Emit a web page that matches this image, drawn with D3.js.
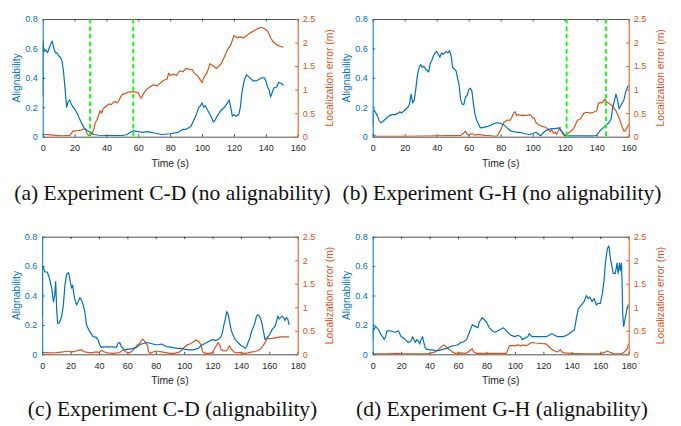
<!DOCTYPE html>
<html><head><meta charset="utf-8">
<script src="https://cdn.jsdelivr.net/npm/d3@7"></script>
<style>body{margin:0;background:#fff}svg{display:block}</style>
</head><body>
<svg id="c" width="681" height="426"></svg>
<script>
// ---------- DATA ----------
const captions = ["(a) Experiment C-D (no alignability)", "(b) Experiment G-H (no alignability)",
                  "(c) Experiment C-D (alignability)", "(d) Experiment G-H (alignability)"];
const xMaxes = [160, 160, 180, 180];
const xTicksA = [0,20,40,60,80,100,120,140,160];
const xTicksC = [0,20,40,60,80,100,120,140,160,180];
const leftTicks = [0,0.2,0.4,0.6,0.8];
const rightTicks = [0,0.5,1,1.5,2,2.5];
const xLabel = "Time (s)", leftLabel = "Alignability", rightLabel = "Localization error (m)";
const greenA = [29.7, 56.8];
const greenB = [121.2, 145.8];

const alignA = [[0,0.27],[0,0.65],[0.5,0.6],[1,0.58],[2,0.59],[3,0.57],[4,0.6],[5,0.63],[6,0.65],[7,0.6],[8,0.57],[9,0.57],[10,0.55],[11,0.54],[12,0.52],[13,0.45],[14,0.33],[15,0.2],[16,0.24],[17,0.25],[18,0.22],[19,0.2],[20,0.19],[22,0.15],[24,0.1],[26,0.06],[28,0.04],[30,0.03],[32,0.015],[35,0.01],[40,0.008],[50,0.008],[53,0.015],[55,0.03],[57,0.04],[60,0.035],[62,0.03],[66,0.035],[70,0.025],[75,0.015],[80,0.02],[85,0.03],[88,0.05],[90,0.05],[93,0.07],[96,0.14],[98,0.2],[99,0.21],[100,0.23],[101,0.2],[102,0.21],[104,0.17],[106,0.13],[107,0.1],[108,0.11],[110,0.15],[112,0.18],[114,0.2],[116,0.23],[117,0.25],[118,0.2],[119,0.14],[120,0.15],[121,0.14],[123,0.15],[124,0.2],[125,0.3],[126,0.36],[127,0.4],[128,0.42],[130,0.4],[132,0.38],[134,0.38],[136,0.39],[137,0.4],[139,0.4],[140,0.38],[141,0.34],[142,0.32],[143,0.27],[144,0.3],[145,0.33],[147,0.34],[148,0.37],[150,0.36],[151,0.35]];
const errA = [[0,0.05],[5,0.04],[8,0.03],[12,0.02],[17,0.03],[18,0.07],[19,0.12],[22,0.13],[24,0.14],[26,0.17],[27,0.14],[28,0.05],[29,0.02],[30,0.05],[31,0.06],[32,0.15],[33,0.3],[34,0.35],[35,0.45],[36,0.55],[37,0.5],[38,0.6],[40,0.65],[42,0.7],[43,0.68],[45,0.75],[47,0.72],[49,0.85],[50,0.9],[52,0.92],[54,0.95],[56,0.95],[58,0.95],[60,0.93],[61,0.85],[62,0.82],[63,0.9],[65,1.0],[67,1.05],[69,1.1],[72,1.08],[74,1.15],[76,1.2],[78,1.22],[79,1.35],[80,1.3],[82,1.33],[84,1.3],[86,1.4],[88,1.38],[90,1.45],[92,1.43],[94,1.42],[95,1.35],[97,1.3],[99,1.2],[100,1.15],[101,1.25],[103,1.35],[104,1.45],[105,1.55],[107,1.5],[109,1.45],[110,1.48],[112,1.55],[114,1.7],[116,1.85],[118,1.95],[119,2.05],[120,2.15],[122,2.1],[124,2.12],[126,2.1],[128,2.15],[130,2.2],[133,2.26],[135,2.3],[137,2.32],[139,2.3],[141,2.25],[143,2.1],[145,2.0],[147,1.95],[149,1.92],[151,1.9]];
const alignB = [[0,0.07],[0,0.17],[1,0.18],[2,0.16],[3,0.14],[4,0.11],[5,0.095],[6,0.1],[8,0.12],[10,0.14],[12,0.15],[14,0.15],[16,0.16],[17,0.17],[18,0.16],[20,0.18],[22,0.2],[23,0.22],[24,0.29],[25,0.23],[26,0.25],[27,0.33],[28,0.42],[29,0.47],[30,0.49],[31,0.47],[32,0.48],[33,0.46],[34,0.45],[35,0.44],[36,0.5],[37,0.52],[38,0.55],[39,0.57],[40,0.58],[41,0.56],[42,0.54],[43,0.57],[44,0.56],[45,0.57],[46,0.58],[47,0.57],[48,0.585],[49,0.55],[50,0.47],[51,0.46],[52,0.45],[53,0.4],[54,0.35],[55,0.25],[56,0.22],[57,0.22],[58,0.27],[59,0.28],[60,0.32],[61,0.33],[62,0.31],[63,0.22],[64,0.15],[65,0.11],[66,0.09],[67,0.065],[68,0.06],[70,0.065],[72,0.07],[74,0.08],[76,0.09],[78,0.095],[80,0.09],[82,0.08],[84,0.06],[86,0.04],[88,0.035],[90,0.03],[92,0.03],[95,0.02],[98,0.015],[100,0.02],[102,0.03],[104,0.015],[105,0.005],[106,0.02],[108,0.04],[110,0.05],[112,0.055],[114,0.055],[116,0.06],[118,0.04],[120,0.01],[122,0.005],[130,0.005],[138,0.005],[140,0.01],[142,0.04],[144,0.06],[146,0.08],[148,0.1],[149,0.12],[150,0.2],[151,0.24],[152,0.29],[153,0.25],[154,0.19],[155,0.21],[156,0.23],[157,0.25],[158,0.3],[159,0.33],[160,0.35]];
const errB = [[0,0.05],[1,0.03],[2,0.01],[20,0.01],[40,0.02],[55,0.03],[57,0.08],[58,0.12],[59,0.05],[60,0.03],[62,0.07],[64,0.03],[66,0.05],[68,0.04],[70,0.03],[74,0.02],[76,0.01],[78,0.02],[80,0.15],[82,0.3],[84,0.35],[86,0.35],[87,0.42],[88,0.5],[89,0.53],[90,0.45],[91,0.47],[92,0.45],[94,0.46],[96,0.45],[98,0.47],[99,0.45],[100,0.4],[101,0.4],[102,0.3],[104,0.25],[106,0.22],[108,0.2],[110,0.15],[111,0.1],[112,0.15],[113,0.07],[114,0.1],[115,0.05],[116,0.12],[117,0.2],[118,0.1],[119,0.05],[120,0.02],[121,0.05],[122,0.07],[124,0.12],[126,0.2],[128,0.35],[130,0.38],[132,0.5],[134,0.52],[136,0.5],[138,0.52],[140,0.55],[141,0.7],[142,0.73],[143,0.72],[144,0.74],[145,0.8],[146,0.75],[147,0.72],[148,0.7],[150,0.65],[152,0.55],[154,0.4],[155,0.3],[156,0.2],[157,0.12],[158,0.13],[159,0.2],[160,0.27]];
const alignC = [[0,0.26],[0,0.6],[0.35,0.596],[1.2,0.58],[1.9,0.56],[3.6,0.56],[5,0.52],[6.7,0.45],[7.9,0.358],[8.8,0.4],[9.5,0.495],[10.2,0.3],[10.9,0.21],[12.1,0.215],[13.7,0.257],[14.9,0.335],[16,0.467],[17.2,0.545],[18.6,0.556],[19.5,0.51],[20.7,0.45],[21.4,0.47],[22.8,0.38],[24.2,0.335],[25.4,0.357],[26.5,0.385],[27.7,0.37],[28.9,0.335],[30,0.29],[31.2,0.2],[33.5,0.154],[35.9,0.12],[38.2,0.115],[39.4,0.097],[40.6,0.063],[41.7,0.047],[44,0.05],[50,0.05],[52.3,0.047],[53.4,0.075],[54.6,0.08],[55.8,0.052],[58.1,0.03],[60.5,0.035],[62,0.035],[64,0.04],[66,0.045],[68,0.06],[70,0.07],[72,0.075],[74,0.08],[76,0.075],[78,0.07],[80,0.065],[82,0.065],[84,0.07],[86,0.06],[88,0.05],[90,0.05],[92,0.045],[95,0.04],[98,0.04],[100,0.035],[103,0.03],[106,0.03],[110,0.04],[112,0.06],[114,0.07],[116,0.08],[118,0.09],[120,0.1],[122,0.095],[124,0.1],[126,0.12],[127,0.15],[128,0.2],[129,0.24],[130,0.29],[131,0.27],[132,0.22],[133,0.17],[134,0.14],[136,0.1],[138,0.08],[140,0.06],[142,0.05],[143,0.04],[144,0.05],[145,0.08],[146,0.1],[147,0.14],[148,0.17],[149,0.19],[150,0.22],[151,0.26],[152,0.27],[153,0.26],[154,0.24],[155,0.2],[156,0.15],[157,0.1],[158,0.11],[159,0.12],[160,0.13],[161,0.15],[162,0.17],[164,0.19],[165,0.22],[166,0.26],[167,0.24],[168,0.25],[169,0.26],[170,0.25],[171,0.23],[172,0.25],[173,0.24],[174,0.2]];
const errC = [[0,0.04],[5,0.03],[10,0.035],[15,0.05],[17,0.07],[19,0.06],[21,0.05],[24,0.07],[26,0.09],[27.7,0.1],[29,0.06],[32,0.04],[35,0.03],[38,0.05],[40,0.04],[42,0.08],[44,0.05],[46,0.03],[50,0.02],[53,0.03],[55,0.05],[57,0.1],[59,0.05],[61,0.03],[63,0.06],[65,0.12],[67,0.2],[69,0.24],[70,0.3],[71,0.32],[72,0.28],[74,0.2],[75,0.05],[76,0.02],[78,0.05],[80,0.07],[82,0.06],[84,0.05],[86,0.04],[88,0.03],[90,0.02],[93,0.02],[96,0.04],[98,0.08],[100,0.15],[102,0.2],[104,0.22],[106,0.25],[108,0.3],[110,0.28],[112,0.2],[113,0.05],[115,0.02],[118,0.02],[120,0.04],[122,0.15],[124,0.25],[125,0.2],[126,0.1],[128,0.07],[130,0.08],[132,0.18],[133,0.12],[135,0.05],[137,0.03],[140,0.04],[142,0.02],[145,0.03],[148,0.05],[150,0.06],[152,0.08],[154,0.12],[156,0.2],[158,0.3],[159,0.35],[160,0.33],[162,0.34],[164,0.35],[166,0.36],[168,0.37],[170,0.37],[174,0.37]];
const alignD = [[0,0.1],[0,0.18],[1,0.17],[2,0.19],[3,0.18],[4,0.17],[5,0.15],[6,0.13],[7,0.12],[8,0.1],[9,0.12],[10,0.16],[12,0.16],[14,0.155],[16,0.15],[18,0.16],[19,0.14],[20,0.12],[22,0.11],[24,0.09],[25,0.08],[27,0.09],[28,0.12],[29,0.1],[30,0.08],[31,0.1],[32,0.09],[33,0.07],[34,0.1],[35,0.12],[36,0.08],[37,0.04],[38,0.035],[40,0.03],[42,0.03],[44,0.025],[46,0.025],[48,0.03],[50,0.035],[52,0.04],[55,0.055],[58,0.06],[60,0.065],[62,0.08],[64,0.085],[66,0.1],[68,0.15],[70,0.2],[72,0.19],[74,0.18],[75,0.22],[77,0.25],[78,0.24],[80,0.22],[82,0.18],[84,0.16],[86,0.15],[88,0.16],[90,0.17],[92,0.18],[93,0.17],[95,0.15],[97,0.13],[100,0.12],[102,0.13],[104,0.12],[105,0.1],[107,0.11],[109,0.12],[110,0.14],[112,0.12],[115,0.12],[118,0.12],[120,0.12],[122,0.12],[124,0.13],[126,0.14],[128,0.13],[130,0.12],[132,0.12],[134,0.12],[136.4,0.13],[138,0.14],[139.9,0.154],[141.8,0.165],[143.4,0.256],[144.6,0.31],[146.2,0.33],[148.6,0.358],[150.3,0.4],[151.5,0.38],[152.7,0.39],[154.3,0.358],[155.7,0.38],[157.3,0.335],[158.5,0.347],[160.1,0.347],[161.5,0.414],[162.7,0.505],[163.6,0.62],[165,0.72],[166.1,0.737],[167.3,0.64],[168.2,0.6],[169.1,0.55],[170.6,0.55],[171.8,0.62],[172.6,0.55],[173.5,0.62],[174.2,0.57],[174.9,0.62],[175.3,0.5],[175.8,0.27],[176.5,0.19],[177.4,0.24],[178.1,0.27],[178.8,0.31],[179.5,0.33],[180,0.34]];
const errD = [[0,0.01],[10,0.01],[18,0.02],[20,0.01],[38,0.01],[40,0.02],[44,0.05],[46,0.1],[48,0.15],[50,0.2],[52,0.15],[54,0.1],[56,0.05],[58,0.02],[62,0.03],[65,0.02],[67,0.05],[69,0.1],[70,0.12],[71,0.05],[73,0.02],[80,0.02],[90,0.02],[94,0.02],[96,0.18],[98,0.19],[100,0.18],[102,0.2],[104,0.18],[106,0.2],[108,0.18],[110,0.22],[112,0.25],[114,0.24],[118,0.23],[122,0.22],[124,0.16],[126,0.1],[128,0.07],[130,0.05],[132,0.1],[133,0.05],[135,0.03],[140,0.02],[150,0.01],[160,0.01],[163,0.04],[165,0.07],[167,0.04],[170,0.01],[175,0.01],[177,0.05],[179,0.12],[180,0.23]];

// ---------- DRAW ----------
const BLUE = "#0072BD", ORANGE = "#D95319", AXIS = "#262626";
const svg = d3.select("#c");
const panels = [
  {x0:42.7, x1:297.7, y0:19, y1:136.7, xmax:xMaxes[0], ticks:xTicksA, a:alignA, e:errA, g:greenA, cap:captions[0], capY:200},
  {x0:372.7, x1:628.7, y0:19, y1:136.7, xmax:xMaxes[1], ticks:xTicksA, a:alignB, e:errB, g:greenB, cap:captions[1], capY:200},
  {x0:42.2, x1:297.7, y0:236.7, y1:354.3, xmax:xMaxes[2], ticks:xTicksC, a:alignC, e:errC, g:[], cap:captions[2], capY:416},
  {x0:372.7, x1:628.7, y0:236.7, y1:354.3, xmax:xMaxes[3], ticks:xTicksC, a:alignD, e:errD, g:[], cap:captions[3], capY:416}
];
const sans = "'Liberation Sans', Arial, Helvetica, sans-serif";
const TL = 2.5;
panels.forEach((p, i) => {
  const g = svg.append("g");
  const x = d3.scaleLinear().domain([0, p.xmax]).range([p.x0, p.x1]);
  const yl = d3.scaleLinear().domain([0, 0.8]).range([p.y1, p.y0]);
  const yr = d3.scaleLinear().domain([0, 2.5]).range([p.y1, p.y0]);
  const cid = "clip" + i;
  svg.append("clipPath").attr("id", cid).append("rect")
     .attr("x", p.x0).attr("y", p.y0 - 1).attr("width", p.x1 - p.x0).attr("height", p.y1 - p.y0 + 1);

  // bottom axis
  const xb = d3.axisBottom(x).tickValues(p.ticks).tickSizeInner(-TL).tickSizeOuter(0).tickPadding(8);
  const gx = g.append("g").attr("transform", `translate(0,${p.y1})`).call(xb);
  gx.select(".domain").attr("stroke", AXIS).attr("stroke-width", 0.8);
  gx.selectAll(".tick line").attr("stroke", AXIS).attr("stroke-width", 0.8);
  gx.selectAll("text").attr("font-family", sans).attr("font-size", 9).attr("fill", AXIS);
  // top
  const xt = d3.axisTop(x).tickValues(p.ticks).tickSizeInner(-TL).tickSizeOuter(0).tickFormat("");
  const gt = g.append("g").attr("transform", `translate(0,${p.y0})`).call(xt);
  gt.select(".domain").attr("stroke", AXIS).attr("stroke-width", 0.8);
  gt.selectAll(".tick line").attr("stroke", AXIS).attr("stroke-width", 0.8);

  // lines
  const lineL = d3.line().x(d => x(d[0])).y(d => yl(d[1]));
  const lineR = d3.line().x(d => x(d[0])).y(d => yr(d[1]));
  const pl = g.append("g").attr("clip-path", `url(#${cid})`);
  pl.append("path").datum(p.e).attr("d", lineR).attr("fill", "none")
    .attr("stroke", ORANGE).attr("stroke-width", 1.2).attr("stroke-linejoin", "round");
  pl.append("path").datum(p.a).attr("d", lineL).attr("fill", "none")
    .attr("stroke", BLUE).attr("stroke-width", 1.2).attr("stroke-linejoin", "round");
  p.g.forEach(t => {
    g.append("line").attr("x1", x(t)).attr("x2", x(t)).attr("y1", p.y0).attr("y2", p.y1)
     .attr("stroke", "#00ff00").attr("stroke-width", 1.8).attr("stroke-dasharray", "4.5,3");
  });

  // left axis
  const ya = d3.axisLeft(yl).tickValues(leftTicks).tickSizeInner(-TL).tickSizeOuter(0).tickPadding(5)
     .tickFormat(d => d === 0 ? "0" : d3.format(".1f")(d));
  const gy = g.append("g").attr("transform", `translate(${p.x0},0)`).call(ya);
  gy.select(".domain").attr("stroke", BLUE).attr("stroke-width", 1);
  gy.selectAll(".tick line").attr("stroke", BLUE);
  gy.selectAll("text").attr("font-family", sans).attr("font-size", 9).attr("fill", BLUE);
  // right axis
  const yra = d3.axisRight(yr).tickValues(rightTicks).tickSizeInner(-TL).tickSizeOuter(0).tickPadding(5)
     .tickFormat(d => String(d));
  const gr = g.append("g").attr("transform", `translate(${p.x1},0)`).call(yra);
  gr.select(".domain").attr("stroke", ORANGE).attr("stroke-width", 1);
  gr.selectAll(".tick line").attr("stroke", ORANGE);
  gr.selectAll("text").attr("font-family", sans).attr("font-size", 9).attr("fill", ORANGE);

  const cy = (p.y0 + p.y1) / 2;
  g.append("text").attr("transform", `translate(${p.x0 - 22.5},${cy}) rotate(-90)`)
   .attr("text-anchor", "middle").attr("font-family", sans).attr("font-size", 10.3)
   .attr("fill", BLUE).text(leftLabel);
  g.append("text").attr("transform", `translate(${p.x1 + 35},${cy}) rotate(-90)`)
   .attr("text-anchor", "middle").attr("font-family", sans).attr("font-size", 10.3)
   .attr("fill", ORANGE).text(rightLabel);
  g.append("text").attr("x", (p.x0 + p.x1) / 2).attr("y", p.y1 + 30)
   .attr("text-anchor", "middle").attr("font-family", sans).attr("font-size", 10.3)
   .attr("fill", AXIS).text(xLabel);

  // caption
  svg.append("text").attr("x", i % 2 === 0 ? 172.5 : 502).attr("y", p.capY)
   .attr("text-anchor", "middle").attr("font-family", "'Liberation Serif', 'Times New Roman', serif")
   .attr("font-size", 21.5).attr("fill", "#111").text(p.cap);
});
</script>
</body></html>
